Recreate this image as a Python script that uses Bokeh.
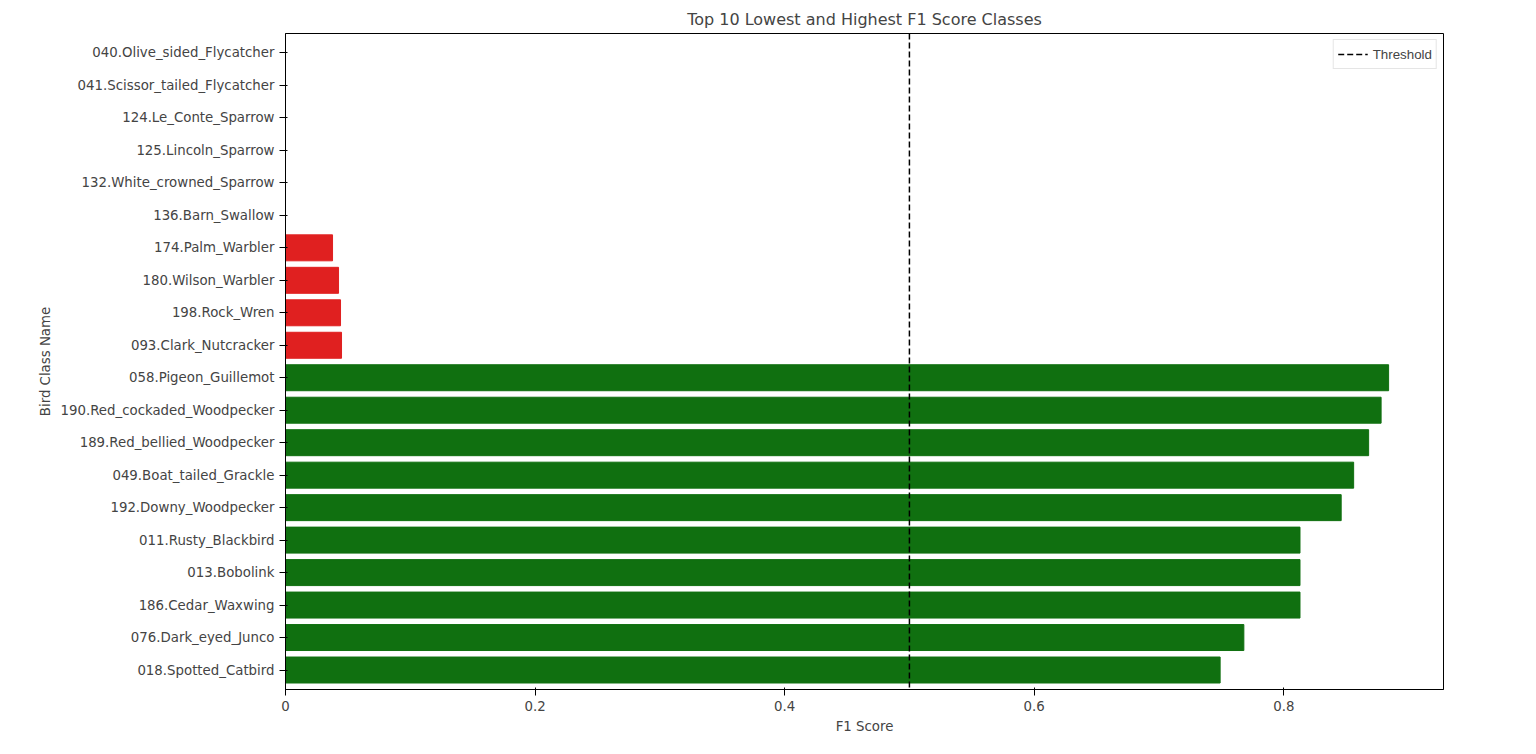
from bokeh.plotting import figure
from bokeh.embed import file_html
from bokeh.resources import INLINE
from bokeh.models import ColumnDataSource, Range1d, Span, Legend, LegendItem

classes = [
    "040.Olive_sided_Flycatcher", "041.Scissor_tailed_Flycatcher", "124.Le_Conte_Sparrow",
    "125.Lincoln_Sparrow", "132.White_crowned_Sparrow", "136.Barn_Swallow",
    "174.Palm_Warbler", "180.Wilson_Warbler", "198.Rock_Wren", "093.Clark_Nutcracker",
    "058.Pigeon_Guillemot", "190.Red_cockaded_Woodpecker", "189.Red_bellied_Woodpecker",
    "049.Boat_tailed_Grackle", "192.Downy_Woodpecker", "011.Rusty_Blackbird",
    "013.Bobolink", "186.Cedar_Waxwing", "076.Dark_eyed_Junco", "018.Spotted_Catbird",
]
f1_scores = [0.0, 0.0, 0.0, 0.0, 0.0, 0.0, 0.0377, 0.0425, 0.0441, 0.0449,
             0.884, 0.878, 0.868, 0.856, 0.846, 0.813, 0.813, 0.813, 0.768, 0.749]
threshold = 0.5

colors = ["#e02020"] * 10 + ["#107010"] * 10
src = ColumnDataSource(dict(cls=classes, f1=f1_scores, color=colors))

p = figure(width=1520, height=738, y_range=list(reversed(classes)), x_range=Range1d(0, 0.928),
           output_backend="svg", toolbar_location=None, tools=[],
           title="Top 10 Lowest and Highest F1 Score Classes",
           x_axis_label="F1 Score", y_axis_label="Bird Class Name",
           min_border_left=285, min_border_right=77, min_border_top=33, min_border_bottom=49)
p.hbar(y="cls", right="f1", left=0, height=0.8, color="color", source=src)

span = Span(location=threshold, dimension="height", line_color="black", line_dash="6 3", line_width=1.5)
p.add_layout(span)
dummy = p.line([threshold, threshold], [classes[0], classes[0]], line_color="black",
               line_dash="6 3", line_width=1.5, visible=False)
leg = Legend(items=[LegendItem(label="Threshold", renderers=[dummy])], location="top_right",
             label_text_font_size="10pt", border_line_color="#cccccc", padding=4, spacing=0,
             margin=6, glyph_width=30)
p.add_layout(leg)

p.title.align = "center"
p.title.text_font_size = "12pt"
p.title.text_font_style = "normal"
p.title.text_font = "DejaVu Sans"
for ax in (p.xaxis, p.yaxis):
    ax.axis_label_text_font_style = "normal"
    ax.axis_label_text_font_size = "10pt"
    ax.axis_label_text_font = "DejaVu Sans"
    ax.major_label_text_font_size = "10pt"
    ax.major_label_text_font = "DejaVu Sans"
    ax.minor_tick_line_color = None
p.xaxis.ticker = [0, 0.2, 0.4, 0.6, 0.8]
p.xgrid.visible = False
p.ygrid.visible = False
p.outline_line_color = "black"
p.y_range.range_padding = 0.01

open("out.html", "w").write(file_html(p, INLINE))
